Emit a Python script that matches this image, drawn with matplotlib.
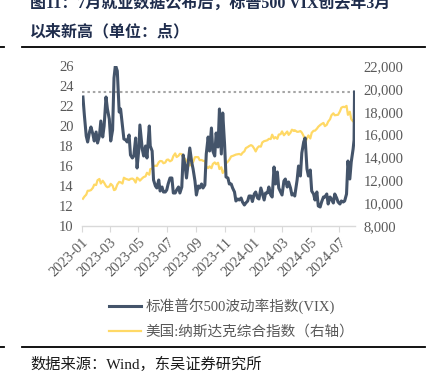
import matplotlib
matplotlib.use("Agg")
import matplotlib.pyplot as plt
import matplotlib.dates as mdates
from matplotlib.lines import Line2D
import pandas as pd

plt.rcParams['font.family'] = ['Liberation Serif', 'Noto Sans CJK SC', 'DejaVu Sans']

title_line1 = "图11：7月就业数据公布后，标普500 VIX创去年3月"
title_line2 = "以来新高（单位：点）"
source_text = "数据来源：Wind，东吴证券研究所"
vix_label = "标准普尔500波动率指数(VIX)"
ndx_label = "美国:纳斯达克综合指数（右轴）"

dates = [
    "2023-01-03", "2023-01-06", "2023-01-10", "2023-01-13", "2023-01-17", "2023-01-20",
    "2023-01-24", "2023-01-27", "2023-01-31", "2023-02-03", "2023-02-07", "2023-02-10",
    "2023-02-14", "2023-02-17", "2023-02-21", "2023-02-24", "2023-02-28", "2023-03-03",
    "2023-03-07", "2023-03-10", "2023-03-13", "2023-03-17", "2023-03-21", "2023-03-24",
    "2023-03-28", "2023-03-31", "2023-04-04", "2023-04-07", "2023-04-11", "2023-04-14",
    "2023-04-18", "2023-04-21", "2023-04-25", "2023-04-28", "2023-05-02", "2023-05-04",
    "2023-05-09", "2023-05-12", "2023-05-16", "2023-05-19", "2023-05-24", "2023-05-26",
    "2023-05-30", "2023-06-02", "2023-06-06", "2023-06-09", "2023-06-13", "2023-06-16",
    "2023-06-20", "2023-06-23", "2023-06-27", "2023-06-30", "2023-07-03", "2023-07-07",
    "2023-07-11", "2023-07-14", "2023-07-18", "2023-07-21", "2023-07-25", "2023-07-28",
    "2023-08-01", "2023-08-04", "2023-08-08", "2023-08-11", "2023-08-15", "2023-08-18",
    "2023-08-22", "2023-08-25", "2023-08-29", "2023-09-01", "2023-09-05", "2023-09-08",
    "2023-09-12", "2023-09-15", "2023-09-19", "2023-09-22", "2023-09-26", "2023-09-29",
    "2023-10-03", "2023-10-06", "2023-10-10", "2023-10-13", "2023-10-17", "2023-10-20",
    "2023-10-24", "2023-10-27", "2023-10-31", "2023-11-03", "2023-11-07", "2023-11-10",
    "2023-11-14", "2023-11-17", "2023-11-21", "2023-11-24", "2023-11-28", "2023-12-01",
    "2023-12-05", "2023-12-08", "2023-12-12", "2023-12-15", "2023-12-19", "2023-12-22",
    "2023-12-26", "2023-12-29",
    "2024-01-02", "2024-01-05", "2024-01-09", "2024-01-12", "2024-01-16", "2024-01-19",
    "2024-01-23", "2024-01-26", "2024-01-30", "2024-02-02", "2024-02-06", "2024-02-09",
    "2024-02-13", "2024-02-16", "2024-02-20", "2024-02-23", "2024-02-27", "2024-03-01",
    "2024-03-05", "2024-03-08", "2024-03-12", "2024-03-15", "2024-03-19", "2024-03-22",
    "2024-03-26", "2024-03-28", "2024-04-02", "2024-04-05", "2024-04-09", "2024-04-12",
    "2024-04-16", "2024-04-19", "2024-04-23", "2024-04-26", "2024-04-30", "2024-05-03",
    "2024-05-07", "2024-05-10", "2024-05-14", "2024-05-17", "2024-05-21", "2024-05-24",
    "2024-05-28", "2024-05-31", "2024-06-04", "2024-06-07", "2024-06-11", "2024-06-14",
    "2024-06-18", "2024-06-21", "2024-06-25", "2024-06-28", "2024-07-02", "2024-07-05",
    "2024-07-09", "2024-07-12", "2024-07-16", "2024-07-19", "2024-07-23", "2024-07-26",
    "2024-07-30", "2024-08-01", "2024-08-02",
]

vix = [
    22.9, 21.1, 19.0, 18.4, 19.4, 19.9,
    19.2, 18.5, 19.4, 18.3, 19.0, 20.5,
    18.9, 20.0, 22.9, 21.7, 20.7, 18.5,
    19.6, 24.8, 26.1, 25.5, 21.4, 21.7,
    20.0, 18.7, 18.6, 18.4, 19.1, 17.1,
    16.8, 17.0, 18.8, 15.8, 17.8, 20.1,
    17.7, 17.0, 18.0, 16.8, 20.0, 18.0,
    17.5, 14.6, 14.0, 13.8, 14.6, 13.5,
    13.9, 13.4, 13.4, 13.6, 14.2, 14.8,
    14.8, 13.3, 13.3, 13.6, 13.9, 13.3,
    13.9, 17.1, 16.0, 14.8, 16.5, 17.8,
    16.4, 15.7, 14.5, 13.1, 14.0, 13.8,
    14.2, 13.8, 14.1, 17.2, 18.9, 17.5,
    19.8, 17.5, 17.0, 19.3, 17.9, 21.7,
    17.2, 21.3, 18.1, 14.9, 14.8, 14.2,
    14.2, 13.8, 13.4, 12.5, 12.7, 12.6,
    12.8, 12.4, 12.1, 12.3, 12.5, 13.0,
    13.0, 12.45,
    13.2, 13.4, 12.8, 12.7, 13.8, 13.3,
    12.6, 13.3, 13.3, 13.9, 13.1, 12.9,
    15.9, 14.2, 15.4, 13.8, 13.4, 13.1,
    14.5, 14.7, 13.9, 14.4, 13.8, 13.1,
    13.2, 13.0, 14.6, 16.0, 15.0, 17.3,
    18.4, 18.8, 15.7, 15.0, 15.6, 13.5,
    13.2, 12.6, 13.4, 12.0, 11.9, 12.4,
    12.9, 12.9, 13.2, 12.2, 12.9, 12.7,
    12.3, 13.2, 12.8, 12.4, 12.2, 12.5,
    12.4, 12.5, 13.2, 16.5, 14.7, 16.4,
    17.7, 18.6, 23.4,
]

nasdaq = [
    10386, 10569, 10743, 11079, 11095, 11140,
    11334, 11622, 11585, 12007, 12114, 11718,
    11960, 11787, 11492, 11395, 11456, 11690,
    11530, 11139, 11189, 11630, 11860, 11824,
    11716, 12222, 12126, 12088, 12031, 12123,
    12153, 12072, 11799, 12227, 12080, 11967,
    12179, 12284, 12343, 12657, 12484, 12976,
    13017, 13241, 13276, 13259, 13573, 13689,
    13667, 13492, 13555, 13788, 13816, 13661,
    13760, 14113, 14353, 14032, 14145, 14316,
    14283, 13909, 13884, 13644, 13631, 13290,
    13505, 13590, 14019, 14031, 14021, 13761,
    13774, 13708, 13678, 13212, 13063, 13219,
    13059, 13431, 13562, 13407, 13533, 12984,
    13139, 12643, 12851, 13478, 13639, 13798,
    14094, 14125, 14199, 14250, 14281, 14305,
    14229, 14404, 14533, 14814, 14905, 14993,
    15075, 15011,
    14765, 14524, 14858, 14973, 14944, 15311,
    15426, 15455, 15509, 15629, 15609, 15990,
    15655, 15776, 15630, 15997, 16035, 16275,
    15940, 16085, 16265, 15973, 16166, 16429,
    16316, 16379, 16240, 16249, 16306, 16175,
    15865, 15282, 15697, 15928, 15658, 16156,
    16333, 16341, 16512, 16686, 16833, 16921,
    17019, 16735, 16857, 17133, 17343, 17689,
    17862, 17689, 17718, 17733, 18029, 18352,
    18430, 18398, 18509, 17727, 17997, 17358,
    17147, 17195, 16776,
]

vix_ref_level = 23.39

x = pd.to_datetime(dates)

W, H = 431, 386
fig = plt.figure(figsize=(W / 100, H / 100), dpi=100)

ax = fig.add_axes([82 / W, 1 - 226 / H, (355 - 82) / W, (226 - 66) / H])
ax2 = ax.twinx()

navy = '#44546A'
yellow = '#FFD966'
grey_txt = '#595959'

l1, = ax.plot(x, vix, color=navy, lw=2.2, solid_joinstyle='round', zorder=3)
ax.axhline(vix_ref_level, color='#A6A6A6', lw=1.5, ls=(0, (1.2, 1.4)), zorder=2)
l2, = ax2.plot(x, nasdaq, color=yellow, lw=1.6, solid_joinstyle='round')
ax.set_zorder(ax2.get_zorder() + 1)
ax.patch.set_visible(False)

ax.set_ylim(10, 26)
ax.set_yticks(range(10, 27, 2))
ax2.set_ylim(8000, 22000)
ax2.set_yticks(range(8000, 22001, 2000))
ax2.set_yticklabels([f"{v:,}" for v in range(8000, 22001, 2000)])

ax.set_xlim(pd.Timestamp("2023-01-01"), pd.Timestamp("2024-08-03"))
ax.xaxis.set_major_locator(mdates.MonthLocator(bymonth=[1, 3, 5, 7, 9, 11]))
ax.xaxis.set_major_formatter(mdates.DateFormatter('%Y-%m'))

for a in (ax, ax2):
    for s in a.spines.values():
        s.set_visible(False)
ax.spines['bottom'].set_visible(True)
ax.spines['bottom'].set_color('#D9D9D9')
ax.spines['bottom'].set_linewidth(1.0)

ax.tick_params(axis='y', length=0, labelsize=10.5, labelcolor=grey_txt, pad=6)
ax2.tick_params(axis='y', length=0, labelsize=10.5, labelcolor=grey_txt, pad=6)
ax.tick_params(axis='x', length=4, color='#D9D9D9', labelsize=10.5, labelcolor=grey_txt, pad=3)
for lab in ax.get_xticklabels():
    lab.set_rotation(45)
    lab.set_ha('right')
    lab.set_rotation_mode('anchor')

fig.legend([l1, l2], [vix_label, ndx_label], loc='upper left',
           bbox_to_anchor=(96 / W, 1 - 285 / H), frameon=False,
           fontsize=10.5, handlelength=2.2, handletextpad=0.3,
           labelspacing=0.75, labelcolor=grey_txt)

title_color = '#1F2D4D'
fig.text(30 / W, 1 - 4 / H, title_line1, fontsize=11.5, fontweight='bold',
         color=title_color, va='center', ha='left')
fig.text(30 / W, 1 - 32 / H, title_line2, fontsize=11.5, fontweight='bold',
         color=title_color, va='center', ha='left')

for yy in (47, 347):
    fig.add_artist(Line2D([22 / W, 425 / W], [1 - yy / H, 1 - yy / H],
                          color='black', lw=1.3))
    fig.add_artist(Line2D([0, 4 / W], [1 - yy / H, 1 - yy / H],
                          color='black', lw=1.3))

fig.text(30 / W, 1 - 364 / H, source_text, fontsize=11, color='#1a1a1a',
         va='center', ha='left')

fig.savefig("out.png", dpi=100)
